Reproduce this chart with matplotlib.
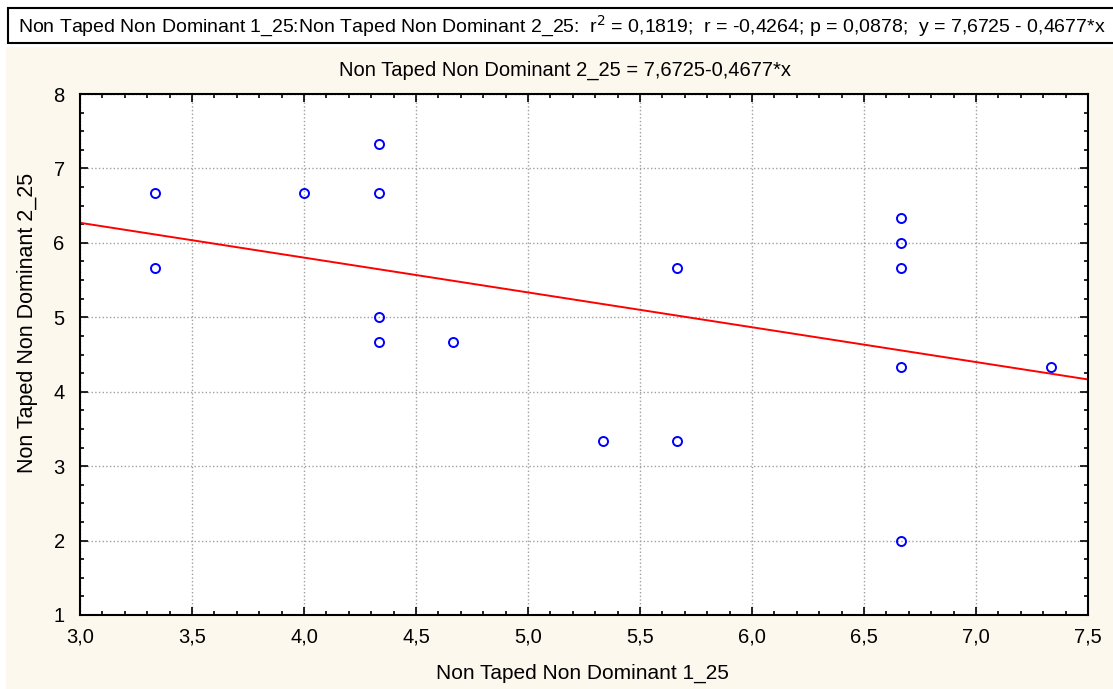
import numpy as np
import matplotlib.pyplot as plt
from matplotlib.patches import Rectangle
from matplotlib.ticker import MultipleLocator, FuncFormatter

plt.rcParams['font.family'] = ['Liberation Sans', 'DejaVu Sans']

# data
x_vals = [3.333, 3.333, 4.0, 4.333, 4.333, 4.333, 4.333, 4.667, 5.333,
          5.667, 5.667, 6.667, 6.667, 6.667, 6.667, 6.667, 7.333]
y_vals = [6.667, 5.667, 6.667, 7.333, 6.667, 5.0, 4.667, 4.667, 3.333,
          5.667, 3.333, 6.333, 6.0, 5.667, 4.333, 2.0, 4.333]
intercept = 7.6725
slope = -0.4677

header = ("Non Taped Non Dominant 1_25:Non Taped Non Dominant 2_25:  r$^2$ = 0,1819;  "
          "r = -0,4264; p = 0,0878;  y = 7,6725 - 0,4677*x")
subtitle = "Non Taped Non Dominant 2_25 = 7,6725-0,4677*x"
xlabel = "Non Taped Non Dominant 1_25"
ylabel = "Non Taped Non Dominant 2_25"

W, H = 1113, 689
fig = plt.figure(figsize=(W / 100, H / 100), dpi=100)
fig.patch.set_facecolor('#fdf8ee')

# white strips on top and left, header box
fig.patches.append(Rectangle((0, 1 - 47 / H), 1, 47 / H, transform=fig.transFigure,
                             facecolor='white', edgecolor='none', zorder=0))
fig.patches.append(Rectangle((0, 0), 6 / W, 1, transform=fig.transFigure,
                             facecolor='white', edgecolor='none', zorder=0))
fig.patches.append(Rectangle((8 / W, 1 - 43 / H), 1.1, 35 / H, transform=fig.transFigure,
                             facecolor='white', edgecolor='black', lw=1.5, zorder=1))
fig.text(18 / W, 1 - 26 / H, header, fontsize=14, va='center', ha='left', zorder=2)
fig.text(565 / W, 1 - 70 / H, subtitle, fontsize=14.5, va='center', ha='center')

ax = fig.add_axes([80 / W, 1 - 615 / H, (1088 - 80) / W, (615 - 94) / H])
ax.set_facecolor('white')

xs = np.array([3.0, 7.5])
ax.plot(xs, intercept + slope * xs, color='red', lw=1.4, zorder=2)
ax.plot(x_vals, y_vals, 'o', ms=6.5, mfc='none', mec='blue', mew=1.4, zorder=3)

ax.set_xlim(3.0, 7.5)
ax.set_ylim(1, 8)
ax.xaxis.set_major_locator(MultipleLocator(0.5))
ax.xaxis.set_minor_locator(MultipleLocator(0.1))
ax.yaxis.set_major_locator(MultipleLocator(1))
ax.yaxis.set_minor_locator(MultipleLocator(0.25))
ax.xaxis.set_major_formatter(FuncFormatter(lambda v, p: f"{v:.1f}".replace('.', ',')))
ax.yaxis.set_major_formatter(FuncFormatter(lambda v, p: f"{v:.0f}"))

ax.tick_params(which='both', direction='in', top=True, right=True, colors='black',
               labelsize=14.5)
ax.tick_params(which='major', length=6, width=1.2)
ax.tick_params(which='minor', length=3, width=1.2)
ax.tick_params(axis='x', which='major', pad=9)
ax.tick_params(axis='y', which='major', pad=11)
for s in ax.spines.values():
    s.set_linewidth(1.5)

ax.grid(True, which='major', linestyle=':', color='#a0a0a0', lw=1)

fig.text(582 / W, 1 - 673 / H, xlabel, fontsize=15, ha='center', va='center')
fig.text(28 / W, 1 - 323 / H, ylabel, fontsize=15.5, ha='center', va='center',
         rotation=90)

fig.savefig("out.png", dpi=100, facecolor=fig.get_facecolor())
